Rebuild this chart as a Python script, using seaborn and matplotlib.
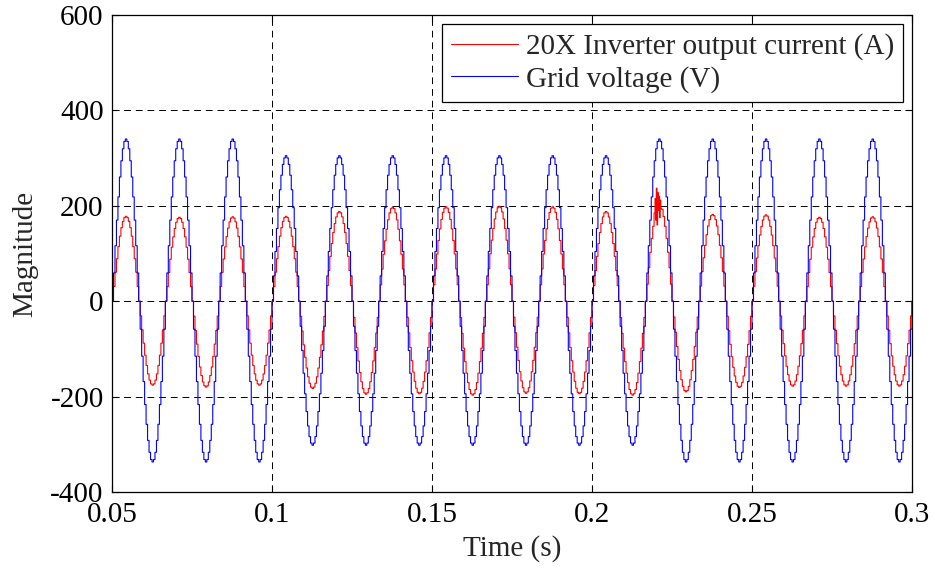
import numpy as np
import pandas as pd
import matplotlib
matplotlib.use("Agg")
import matplotlib.pyplot as plt
import seaborn as sns
from matplotlib.ticker import FuncFormatter

# sampling of the recorded waveforms
t_start = 0.05
n_cycles = 15
samples_per_cycle = 36
grid_freq = 60

# one quarter of a normalised cycle, one value per sample
quarter_wave = [0.0, 0.174, 0.342, 0.5, 0.643, 0.766, 0.866, 0.940, 0.985, 1.0]

# peak / trough of every cycle
volt_peaks = [340, 340, 340, 305, 305, 305, 305, 305, 305, 305, 340, 340, 340, 340, 340]
volt_troughs = [-337, -337, -337, -302, -302, -302, -302, -302, -302, -302,
                -337, -337, -337, -337, -337]
curr_peaks = [178, 176, 177, 178, 188, 197, 198, 199, 198, 188, 205, 182, 181, 176, 177]
curr_troughs = [-176, -180, -176, -183, -195, -194, -197, -193, -194, -197,
                -190, -181, -178, -178, -178]

# short transient on the current near t = 0.22 s
spike_t = [0.2194, 0.2197, 0.2199, 0.2201, 0.2203, 0.2205, 0.2207, 0.2209, 0.2211, 0.2213, 0.2215]
spike_v = [185, 215, 170, 237, 160, 228, 190, 220, 175, 212, 195]

labels = ["20X Inverter output current (A)", "Grid voltage (V)"]
xticks = [0.05, 0.1, 0.15, 0.2, 0.25, 0.3]
yticks = [-400, -200, 0, 200, 400, 600]


def build(peaks, troughs):
    half_shape = np.array(quarter_wave + quarter_wave[-2:0:-1])
    vals = []
    for p, tr in zip(peaks, troughs):
        vals.append(p * half_shape)
        vals.append(tr * half_shape)
    vals = np.concatenate(vals)
    return np.append(vals, 0.0)


volt = build(volt_peaks, volt_troughs)
curr = build(curr_peaks, curr_troughs)
t = t_start + np.arange(len(volt)) / (grid_freq * samples_per_cycle)

keep = (t < spike_t[0] - 1e-5) | (t > spike_t[-1] + 1e-5)
t_curr = np.concatenate([t[keep], spike_t])
curr = np.concatenate([curr[keep], spike_v])

df = pd.concat([
    pd.DataFrame({"Time": t_curr, "Magnitude": curr, "signal": labels[0]}),
    pd.DataFrame({"Time": t, "Magnitude": volt, "signal": labels[1]}),
], ignore_index=True)

sns.set_style("ticks")
plt.rcParams["font.family"] = ["Liberation Serif", "DejaVu Serif"]
plt.rcParams["axes.unicode_minus"] = False
plt.rcParams["font.size"] = 21

fig = plt.figure(figsize=(9.35, 5.67), dpi=100)
ax = fig.add_axes([0.1198, 0.1323, 0.8556, 0.8412])

sns.lineplot(data=df, x="Time", y="Magnitude", hue="signal", hue_order=labels,
             palette={labels[0]: "#ff0000", labels[1]: "#0000ff"},
             estimator=None, drawstyle="steps-post", linewidth=0.8, ax=ax)

ax.set_xlim(0.05, 0.3)
ax.set_ylim(-400, 600)
ax.set_xticks(xticks)
ax.set_yticks(yticks)
ax.xaxis.set_major_formatter(FuncFormatter(lambda v, p: "%g" % v))
ax.yaxis.set_major_formatter(FuncFormatter(lambda v, p: "%g" % v))
ax.tick_params(direction="in", top=True, right=True, length=5, width=0.8,
               labelsize=21, colors="k")
ax.tick_params(axis="x", pad=7)
ax.tick_params(axis="y", pad=6)
ax.grid(True, color="k", linestyle=(0, (7, 5)), linewidth=0.7)
for s in ax.spines.values():
    s.set_visible(True)
    s.set_color("k")
    s.set_linewidth(0.9)

ax.set_xlabel("Time (s)", fontsize=21, labelpad=5)
ax.set_ylabel("Magnitude", fontsize=21, labelpad=9)

handles, labs = ax.get_legend_handles_labels()
leg = ax.legend(handles, labs, loc="upper right", fontsize=21, frameon=True,
                fancybox=False, framealpha=1, edgecolor="k", borderpad=0.32,
                handlelength=2.3, handletextpad=0.25, labelspacing=0.2,
                borderaxespad=0.3)
leg.get_frame().set_linewidth(0.9)

fig.savefig("out.png", dpi=100)
